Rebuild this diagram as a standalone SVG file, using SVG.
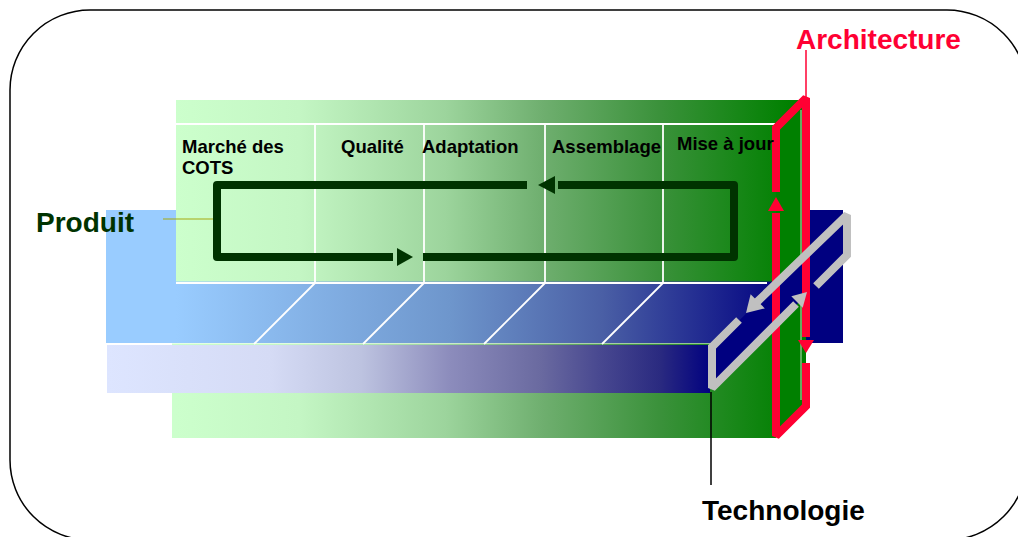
<svg xmlns="http://www.w3.org/2000/svg" width="1018" height="537" viewBox="0 0 1018 537">
<defs>
<linearGradient id="gGreen" gradientUnits="userSpaceOnUse" x1="176" y1="0" x2="790" y2="0">
<stop offset="0" stop-color="#CCFFCC"/>
<stop offset="0.2" stop-color="#C4F6C4"/>
<stop offset="0.44" stop-color="#9CD49C"/>
<stop offset="0.6" stop-color="#6EAE6E"/>
<stop offset="0.79" stop-color="#3A913A"/>
<stop offset="1" stop-color="#008000"/>
</linearGradient>
<linearGradient id="gBlue" gradientUnits="userSpaceOnUse" x1="176" y1="0" x2="785" y2="0">
<stop offset="0" stop-color="#99CCFF"/>
<stop offset="0.45" stop-color="#6E96CC"/>
<stop offset="0.7" stop-color="#4A5FA5"/>
<stop offset="1" stop-color="#000080"/>
</linearGradient>
<linearGradient id="gLav" gradientUnits="userSpaceOnUse" x1="107" y1="0" x2="712" y2="0">
<stop offset="0" stop-color="#DDE5FF"/>
<stop offset="0.27" stop-color="#D5DBF5"/>
<stop offset="0.42" stop-color="#BDC3E0"/>
<stop offset="0.567" stop-color="#8C8CBC"/>
<stop offset="0.716" stop-color="#6A6AA0"/>
<stop offset="0.815" stop-color="#484890"/>
<stop offset="0.914" stop-color="#2A2A80"/>
<stop offset="1" stop-color="#000080"/>
</linearGradient>
</defs>
<style>
.lbl{font-family:"Liberation Sans",Arial,sans-serif;font-weight:bold;}
.col{font-size:18.5px;fill:#000;}
.big{font-size:28px;}
.wl{stroke:#FFFFFF;stroke-width:1.8;fill:none;}
.red{stroke:#FF0033;stroke-width:8;fill:none;stroke-linejoin:miter;stroke-miterlimit:2;}
.grey{stroke:#C0C0C0;stroke-width:8;fill:none;stroke-linejoin:miter;stroke-miterlimit:2;}
.dg{stroke:#003300;stroke-width:8;fill:none;stroke-linejoin:round;}
</style>
<rect x="10" y="10" width="1017" height="530" rx="80" ry="80" fill="#FFFFFF" stroke="#000000" stroke-width="1.5"/>

<g id="layer-technologie-back">
<rect x="106" y="210" width="737" height="133" fill="url(#gBlue)"/>
</g>
<g id="layer-produit">
<rect x="176" y="100" width="625" height="181.5" fill="url(#gGreen)"/>
<rect x="172" y="343.5" width="604" height="94.5" fill="url(#gGreen)"/>
<polygon points="752,348 776,324 776,348" fill="url(#gGreen)"/>
<polygon points="776,128 806,98 806,406 776,436" fill="#008000"/>
<line x1="801" y1="110" x2="801" y2="400" stroke="#BFDDBF" stroke-width="1"/>
</g>
<g id="layer-lavender">
<rect x="107" y="345" width="603" height="48" fill="url(#gLav)"/>
</g>
<g id="grid">
<line class="wl" x1="176" y1="124" x2="775" y2="124"/>
<line class="wl" x1="176" y1="283" x2="767" y2="283"/>
<line class="wl" x1="106" y1="344" x2="172" y2="344"/>
<line class="wl" x1="315" y1="124" x2="315" y2="283"/>
<line class="wl" x1="424" y1="124" x2="424" y2="283"/>
<line class="wl" x1="545" y1="124" x2="545" y2="283"/>
<line class="wl" x1="663" y1="124" x2="663" y2="283"/>
<line class="wl" x1="315" y1="283" x2="254" y2="344"/>
<line class="wl" x1="424" y1="283" x2="363" y2="344"/>
<line class="wl" x1="545" y1="283" x2="484" y2="344"/>
<line class="wl" x1="663" y1="283" x2="602" y2="344"/>
</g>
<g id="technologie-plane">
<polygon points="712,347 847,215 847,255 712,388" fill="#000080"/>
</g>
<g id="architecture">
<path class="red" d="M776,192 L776,128 L806,98 L806,337"/>
<polygon points="776,197 784,211 768,211" fill="#FF0033"/>
<path class="red" d="M776,213 L776,436 L806,406 L806,363"/>
<polygon points="806,353 814,340 798,340" fill="#FF0033"/>
<text class="lbl big" x="796" y="49" fill="#FF0033">Architecture</text>
</g>
<g id="technologie">
<path class="grey" d="M739,320 L712,347 L712,388 L796,304"/>
<polygon points="807,292 802.7,307.7 791.3,296.3" fill="#C0C0C0"/>
<path class="grey" d="M816,286 L847,255 L847,215 L757,302"/>
<polygon points="746,313 750.6,294.2 764.8,308.4" fill="#C0C0C0"/>
<text class="lbl big" x="702" y="520" fill="#000000">Technologie</text>
</g>
<g id="produit">
<text class="lbl big" x="36" y="232" fill="#003300">Produit</text>
</g>
<g id="columns">
<text class="lbl col" x="182" y="153">Marché des</text>
<text class="lbl col" x="182" y="174">COTS</text>
<text class="lbl col" x="341" y="153">Qualité</text>
<text class="lbl col" x="422" y="153">Adaptation</text>
<text class="lbl col" x="552" y="153">Assemblage</text>
<text class="lbl col" x="677" y="150">Mise à jour</text>
</g>
<g id="connectors">
<path class="dg" d="M558,185 L734,185 L734,257 L423,257"/>
<polygon points="538,185 555,176 555,194" fill="#003300"/>
<path class="dg" d="M527,185 L217,185 L217,257 L393,257"/>
<polygon points="413,257 397,248 397,266" fill="#003300"/>
<line x1="163" y1="219" x2="213" y2="219" stroke="#A6AA10" stroke-width="1.2"/>
<line x1="806" y1="50" x2="806" y2="97" stroke="#FF0033" stroke-width="1.5"/>
<line x1="711" y1="392" x2="711" y2="485" stroke="#000000" stroke-width="1.5"/>
</g>
</svg>
